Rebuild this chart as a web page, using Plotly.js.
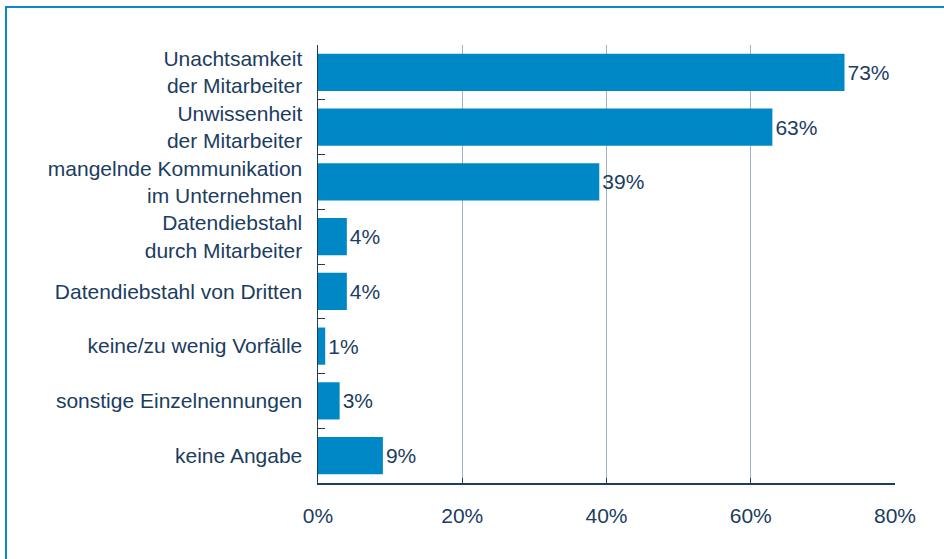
<!DOCTYPE html>
<html>
<head>
<meta charset="utf-8">
<script src="https://cdn.plot.ly/plotly-3.0.1.min.js"></script>
<style>
  html, body { margin: 0; padding: 0; background: #ffffff; overflow: hidden; }
  #wrap { position: relative; width: 944px; height: 559px; }
  #frame { position: absolute; left: 5px; top: 6px; width: 1000px; height: 600px;
           border-left: 2px solid #0a88c8; border-top: 2px solid #0a88c8; pointer-events: none; z-index: 2; }
  #chart { position: absolute; left: 0; top: 0; width: 944px; height: 559px; }
</style>
</head>
<body>
<div id="wrap">
  <div id="chart"></div>
  <div id="frame"></div>
</div>
<script>
const categories = [
  "Unachtsamkeit<br>der Mitarbeiter",
  "Unwissenheit<br>der Mitarbeiter",
  "mangelnde Kommunikation<br>im Unternehmen",
  "Datendiebstahl<br>durch Mitarbeiter",
  "Datendiebstahl von Dritten",
  "keine/zu wenig Vorfälle",
  "sonstige Einzelnennungen",
  "keine Angabe"
];
const values = [73, 63, 39, 4, 4, 1, 3, 9];
const xTickVals = [0, 20, 40, 60, 80];
const xTickText = ["0%", "20%", "40%", "60%", "80%"];

const navy = "#1b3d5f";
const fontFam = "Liberation Sans, Arial, sans-serif";
const fs = 21;

const trace = {
  type: "bar",
  orientation: "h",
  y: categories,
  x: values,
  marker: { color: "#0088c6" },
  text: values.map(v => v + "%"),
  textposition: "outside",
  textfont: { color: navy, size: fs, family: fontFam },
  cliponaxis: false,
  hoverinfo: "none"
};

const layout = {
  width: 944,
  height: 559,
  margin: { l: 318, r: 49, t: 45, b: 76 },
  paper_bgcolor: "#ffffff",
  plot_bgcolor: "#ffffff",
  bargap: 0.32,
  showlegend: false,
  font: { family: fontFam, color: navy, size: fs },
  xaxis: {
    range: [0, 80],
    tickvals: xTickVals,
    ticktext: xTickText,
    showgrid: true,
    gridcolor: "#9fb1c2",
    gridwidth: 1,
    showline: true,
    linecolor: navy,
    linewidth: 1.5,
    ticks: "inside",
    ticklen: 5,
    tickcolor: navy,
    tickfont: { size: fs, color: navy, family: fontFam },
    ticklabelstandoff: 13,
    zeroline: false,
    fixedrange: true
  },
  yaxis: {
    autorange: "reversed",
    showgrid: false,
    showline: true,
    linecolor: navy,
    linewidth: 1.5,
    ticks: "inside",
    tickson: "boundaries",
    ticklen: 7,
    tickcolor: navy,
    tickfont: { size: fs, color: navy, family: fontFam },
    ticklabelstandoff: 10,
    fixedrange: true
  }
};

Plotly.newPlot("chart", [trace], layout, { displayModeBar: false, staticPlot: true });
</script>
</body>
</html>
